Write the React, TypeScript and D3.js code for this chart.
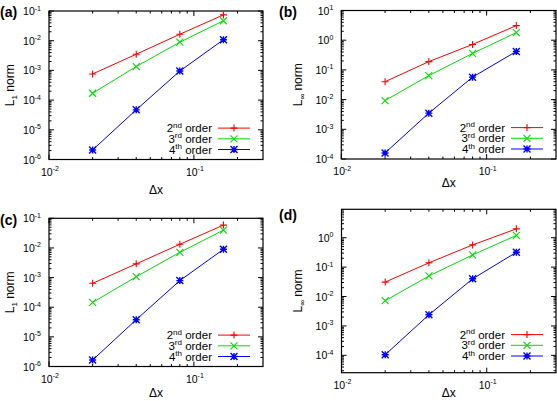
import React from "react";
import * as d3 from "d3";

const dx = [0.02, 0.04, 0.08, 0.16];
const xDomain = [0.01, 0.3];

// (a) L1 norm
const a2nd = [7.6e-4, 3.5e-3, 1.65e-2, 7.4e-2];
const a3rd = [1.7e-4, 1.35e-3, 8.9e-3, 4.7e-2];
const a4th = [2.1e-6, 4.7e-5, 9.5e-4, 1.08e-2];
// (b) Linf norm
const b2nd = [4.0e-2, 1.9e-1, 7.2e-1, 3.1];
const b3rd = [9.3e-3, 6.4e-2, 3.6e-1, 1.8];
const b4th = [1.6e-4, 3.5e-3, 5.7e-2, 4.2e-1];
// (c) L1 norm
const c2nd = [6.4e-4, 2.9e-3, 1.33e-2, 5.9e-2];
const c3rd = [1.45e-4, 1.07e-3, 7.1e-3, 4.0e-2];
const c4th = [1.65e-6, 3.8e-5, 7.9e-4, 9.0e-3];
// (d) Linf norm
const d2nd = [3.1e-2, 1.4e-1, 5.7e-1, 2.0];
const d3rd = [7.2e-3, 5.0e-2, 2.6e-1, 1.2];
const d4th = [1.05e-4, 2.4e-3, 4.0e-2, 3.2e-1];

const orderLabels = [["2", "nd"], ["3", "rd"], ["4", "th"]];
const colors = ["#ff0000", "#00dd00", "#0000ff"];
const markers = ["plus", "cross", "star"];

const FONT = "'Liberation Sans', Arial, Helvetica, sans-serif";

type PanelProps = {
  left: number; right: number; top: number; bottom: number;
  yDomain: [number, number];
  series: number[][];
  ySub: string;
  yLabelX: number;
  xTitleY: number;
  tag: string; tagX: number; tagY: number;
  legendY: number;
};

function Marker({ kind, x, y, color }: { kind: string; x: number; y: number; color: string }) {
  const s = 3.5;
  const plus = `M${x - s},${y}H${x + s}M${x},${y - s}V${y + s}`;
  const cross = `M${x - s},${y - s}L${x + s},${y + s}M${x - s},${y + s}L${x + s},${y - s}`;
  const d = kind === "plus" ? plus : kind === "cross" ? cross : plus + cross;
  return <path d={d} stroke={color} strokeWidth={kind === "star" ? 1.4 : 1.1} fill="none" />;
}

function Panel(p: PanelProps) {
  const x = d3.scaleLog().domain(xDomain).range([p.left, p.right]);
  const y = d3.scaleLog().domain(p.yDomain).range([p.bottom, p.top]);
  const [y0, y1] = p.yDomain;
  const yMajor: number[] = [];
  const yMinor: number[] = [];
  for (let e = Math.floor(Math.log10(y0)); e <= Math.ceil(Math.log10(y1)); e++) {
    const v = Math.pow(10, e);
    if (v >= y0 * 0.999 && v <= y1 * 1.001) yMajor.push(e);
    for (let k = 2; k <= 9; k++) {
      const m = k * v;
      if (m > y0 && m < y1) yMinor.push(m);
    }
  }
  const xMajor = [-2, -1];
  const xMinor: number[] = [];
  for (let e = -2; e <= -1; e++) {
    for (let k = 2; k <= 9; k++) {
      const m = k * Math.pow(10, e);
      if (m < xDomain[1] * 0.999) xMinor.push(m);
    }
  }
  const maj = 5, mnr = 2.5;
  const line = d3.line<number>().x((_, i) => x(dx[i])).y((v) => y(v));
  const midX = (p.left + p.right) / 2;
  const midY = (p.top + p.bottom) / 2;
  return (
    <g fontFamily={FONT} fill="#000">
      <text x={p.tagX} y={p.tagY} fontSize={14} fontWeight="bold">{p.tag}</text>
      {yMajor.map((e) => (
        <g key={"ym" + e}>
          <line x1={p.left} x2={p.left + maj} y1={y(Math.pow(10, e))} y2={y(Math.pow(10, e))} stroke="#000" />
          <line x1={p.right} x2={p.right - maj} y1={y(Math.pow(10, e))} y2={y(Math.pow(10, e))} stroke="#000" />
          <text x={p.left - 8} y={y(Math.pow(10, e)) + 4} fontSize={10.5} textAnchor="end">
            10<tspan dy={-4.5} fontSize={7}>{String(e)}</tspan>
          </text>
        </g>
      ))}
      {yMinor.map((v, i) => (
        <g key={"yn" + i}>
          <line x1={p.left} x2={p.left + mnr} y1={y(v)} y2={y(v)} stroke="#000" />
          <line x1={p.right} x2={p.right - mnr} y1={y(v)} y2={y(v)} stroke="#000" />
        </g>
      ))}
      {xMajor.map((e) => (
        <g key={"xm" + e}>
          <line x1={x(Math.pow(10, e))} x2={x(Math.pow(10, e))} y1={p.bottom} y2={p.bottom - maj} stroke="#000" />
          <line x1={x(Math.pow(10, e))} x2={x(Math.pow(10, e))} y1={p.top} y2={p.top + maj} stroke="#000" />
          <text x={x(Math.pow(10, e)) + 1} y={p.bottom + 16} fontSize={10.5} textAnchor="middle">
            10<tspan dy={-4.5} fontSize={7}>{String(e)}</tspan>
          </text>
        </g>
      ))}
      {xMinor.map((v, i) => (
        <g key={"xn" + i}>
          <line x1={x(v)} x2={x(v)} y1={p.bottom} y2={p.bottom - mnr} stroke="#000" />
          <line x1={x(v)} x2={x(v)} y1={p.top} y2={p.top + mnr} stroke="#000" />
        </g>
      ))}
      <rect x={p.left} y={p.top} width={p.right - p.left} height={p.bottom - p.top} fill="none" stroke="#000" strokeWidth={1.2} />
      <text x={midX} y={p.xTitleY} fontSize={12} textAnchor="middle">Δx</text>
      <text transform={`translate(${p.yLabelX},${midY}) rotate(-90)`} fontSize={12} textAnchor="middle">
        L<tspan dy={3} fontSize={8}>{p.ySub}</tspan><tspan dy={-3}> norm</tspan>
      </text>
      {p.series.map((s, si) => (
        <g key={"s" + si}>
          <path d={line(s) || ""} fill="none" stroke={colors[si]} strokeWidth={1} />
          {s.map((v, i) => (
            <Marker key={i} kind={markers[si]} x={x(dx[i])} y={y(v)} color={colors[si]} />
          ))}
        </g>
      ))}
      {orderLabels.map((lab, i) => {
        const ly = p.legendY - (2 - i) * 10.7;
        return (
          <g key={"l" + i}>
            <text x={p.right - 51} y={ly + 4} fontSize={11.5} textAnchor="end">
              {lab[0]}<tspan dy={-4.5} fontSize={8}>{lab[1]}</tspan><tspan dy={4.5}> order</tspan>
            </text>
            <line x1={p.right - 45} x2={p.right - 13} y1={ly} y2={ly} stroke={colors[i]} strokeWidth={1} />
            <Marker kind={markers[i]} x={p.right - 29} y={ly} color={colors[i]} />
          </g>
        );
      })}
    </g>
  );
}

export default function App() {
  return (
    <svg width={557} height={401} style={{ position: "absolute", left: 0, top: 0, background: "#fff" }}>
      <rect width={557} height={401} fill="#fff" />
      <Panel left={49} right={263} top={11} bottom={159.5} yDomain={[1e-6, 1e-1]}
        series={[a2nd, a3rd, a4th]} ySub="1" yLabelX={14} xTitleY={194}
        tag="(a)" tagX={0} tagY={17} legendY={149.5} />
      <Panel left={341.3} right={556} top={10.5} bottom={159} yDomain={[1e-4, 10]}
        series={[b2nd, b3rd, b4th]} ySub="∞" yLabelX={302} xTitleY={187}
        tag="(b)" tagX={279} tagY={17} legendY={149} />
      <Panel left={49} right={263} top={218.3} bottom={366.5} yDomain={[1e-6, 1e-1]}
        series={[c2nd, c3rd, c4th]} ySub="1" yLabelX={14} xTitleY={397}
        tag="(c)" tagX={0} tagY={225} legendY={356.5} />
      <Panel left={341.5} right={556} top={209.3} bottom={372.7}
        yDomain={[Math.pow(10, -4.59), Math.pow(10, 0.966)]}
        series={[d2nd, d3rd, d4th]} ySub="∞" yLabelX={302} xTitleY={397}
        tag="(d)" tagX={279} tagY={220} legendY={356} />
    </svg>
  );
}
